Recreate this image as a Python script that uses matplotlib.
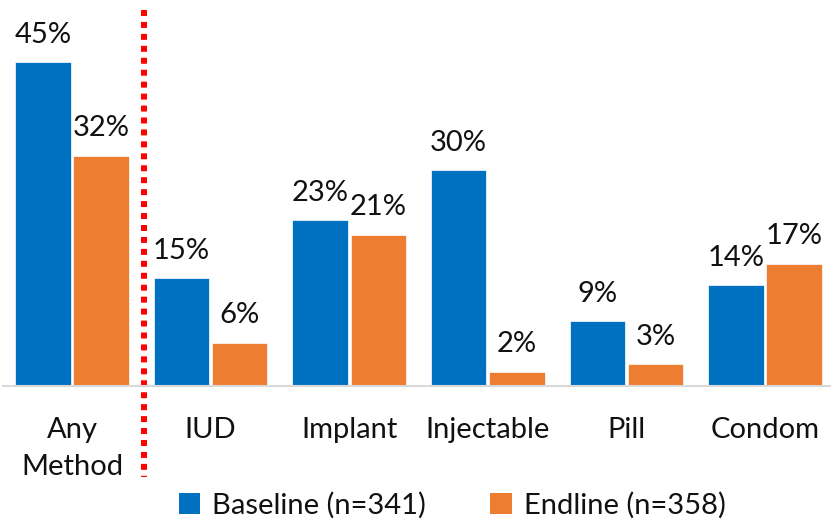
import matplotlib.pyplot as plt
import matplotlib.transforms as mtransforms
from matplotlib.patches import Patch
import numpy as np

plt.rcParams['font.family'] = ['Lato', 'DejaVu Sans']

# contraceptive use by method, baseline vs endline
methods = ['Any\nMethod', 'IUD', 'Implant', 'Injectable', 'Pill', 'Condom']
baseline = [45, 15, 23, 30, 9, 14]
endline = [32, 6, 21, 2, 3, 17]
series_names = ['Baseline (n=341)', 'Endline (n=358)']

blue = '#0070C0'
orange = '#ED7D31'

fig = plt.figure(figsize=(8.31, 5.2), dpi=100)
ax = fig.add_axes([0.0033, 0.2577, 1.0007, 0.6923])

x = np.arange(len(methods))
w = 0.4
b1 = ax.bar(x - 0.21, baseline, w, color=blue, edgecolor='white', linewidth=0.5)
b2 = ax.bar(x + 0.21, endline, w, color=orange, edgecolor='white', linewidth=0.5)

for bars, vals in [(b1, baseline), (b2, endline)]:
    for r, v in zip(bars, vals):
        ax.annotate(f'{v}%', (r.get_x() + r.get_width() / 2, v),
                    xytext=(0, 14), textcoords='offset points',
                    ha='center', va='baseline', fontsize=21, color='#111111')

ax.set_xlim(-0.5, 5.5)
ax.set_ylim(0, 50)
ax.set_yticks([])
ax.set_xticks(x)
ax.set_xticklabels(methods, fontsize=21, color='#111111', linespacing=1.55)
ax.tick_params(axis='x', length=0, pad=22)
for s in ['top', 'left', 'right']:
    ax.spines[s].set_visible(False)
ax.spines['bottom'].set_color('#D9D9D9')
ax.spines['bottom'].set_linewidth(1.5)

# red dotted separator between "Any Method" and the individual methods
trans = mtransforms.blended_transform_factory(ax.transData, ax.transAxes)
ax.plot([0.52, 0.52], [1.044, -0.253], transform=trans, clip_on=False,
        color='#FF0000', linewidth=4.3, linestyle=(0, (1, 1)),
        dash_capstyle='butt')

handles = [Patch(facecolor=blue), Patch(facecolor=orange)]
fig.legend(handles, series_names, loc='center', bbox_to_anchor=(452 / 831, 1 - 505 / 520),
           ncol=2, frameon=False, fontsize=21, handlelength=0.75, handleheight=0.75,
           handletextpad=0.4, columnspacing=2.2, labelcolor='#111111')

fig.savefig('out.png', dpi=100)
